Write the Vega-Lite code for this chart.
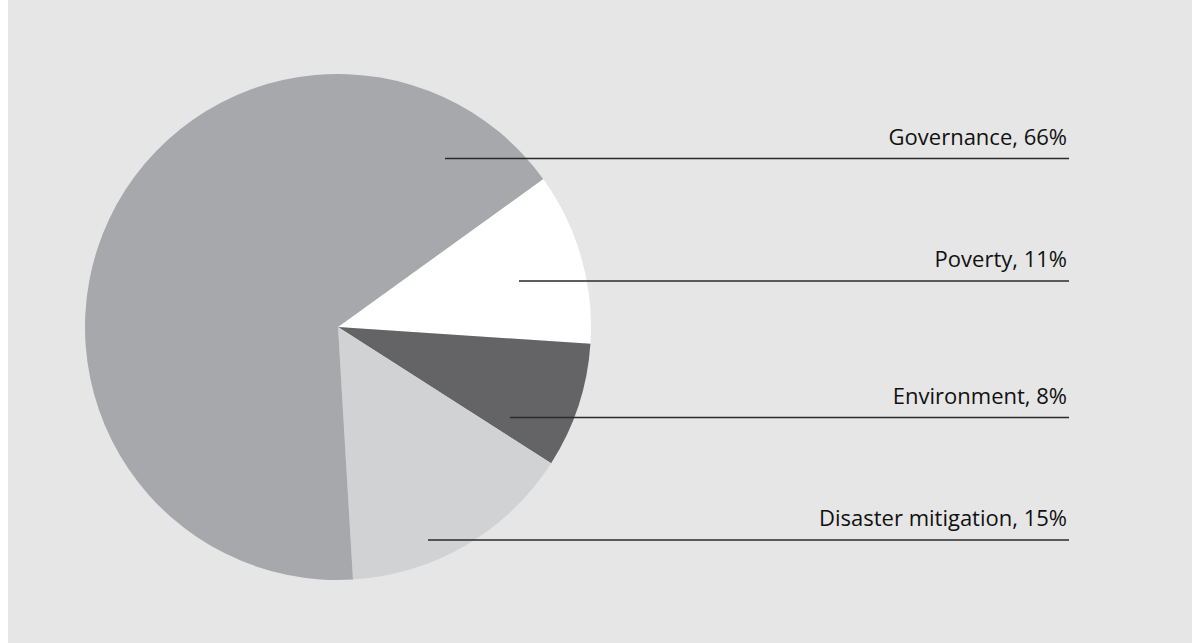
{
  "$schema": "https://vega.github.io/schema/vega-lite/v6.json",
  "autosize": {"type": "fit", "contains": "padding"},
  "width": 1192,
  "height": 643,
  "padding": {"left": 8, "top": 0, "right": 0, "bottom": 0},
  "background": "#ffffff",
  "config": {"view": {"stroke": null, "fill": "#e6e6e6"}},
  "datasets": {
    "slices": [
      {"category": "Poverty", "share": 11, "order": 1},
      {"category": "Environment", "share": 8, "order": 2},
      {"category": "Disaster mitigation", "share": 15, "order": 3},
      {"category": "Governance", "share": 66, "order": 4}
    ],
    "labels": [
      {"label": "Governance, 66%", "xStart": 445, "xEnd": 1069, "yLine": 158.5},
      {"label": "Poverty, 11%", "xStart": 519, "xEnd": 1069, "yLine": 281},
      {"label": "Environment, 8%", "xStart": 510, "xEnd": 1069, "yLine": 417.5},
      {"label": "Disaster mitigation, 15%", "xStart": 428, "xEnd": 1069, "yLine": 540}
    ]
  },
  "resolve": {"scale": {"x": "shared", "y": "shared"}},
  "layer": [
    {
      "data": {"name": "slices"},
      "mark": {"type": "arc", "outerRadius": 253, "stroke": null},
      "encoding": {
        "x": {"datum": 338, "type": "quantitative", "scale": {"domain": [8, 1192], "nice": false, "zero": false}, "axis": null},
        "y": {"datum": 327, "type": "quantitative", "scale": {"domain": [0, 643], "nice": false, "zero": false, "reverse": true}, "axis": null},
        "theta": {"field": "share", "type": "quantitative", "stack": true, "scale": {"range": [0.9460, 7.2292]}},
        "order": {"field": "order", "type": "quantitative"},
        "color": {
          "field": "category",
          "type": "nominal",
          "scale": {
            "domain": ["Poverty", "Environment", "Disaster mitigation", "Governance"],
            "range": ["#ffffff", "#646466", "#d1d2d4", "#a7a8ab"]
          },
          "legend": null
        }
      }
    },
    {
      "data": {"name": "labels"},
      "mark": {"type": "rule", "stroke": "#2a2a2a", "strokeWidth": 1.5},
      "encoding": {
        "x": {"field": "xStart", "type": "quantitative"},
        "x2": {"field": "xEnd"},
        "y": {"field": "yLine", "type": "quantitative"}
      }
    },
    {
      "data": {"name": "labels"},
      "mark": {"type": "text", "align": "right", "baseline": "alphabetic", "dx": -2, "dy": -14, "font": "Open Sans", "fontSize": 22, "fill": "#111111"},
      "encoding": {
        "x": {"field": "xEnd", "type": "quantitative"},
        "y": {"field": "yLine", "type": "quantitative"},
        "text": {"field": "label"}
      }
    }
  ]
}
